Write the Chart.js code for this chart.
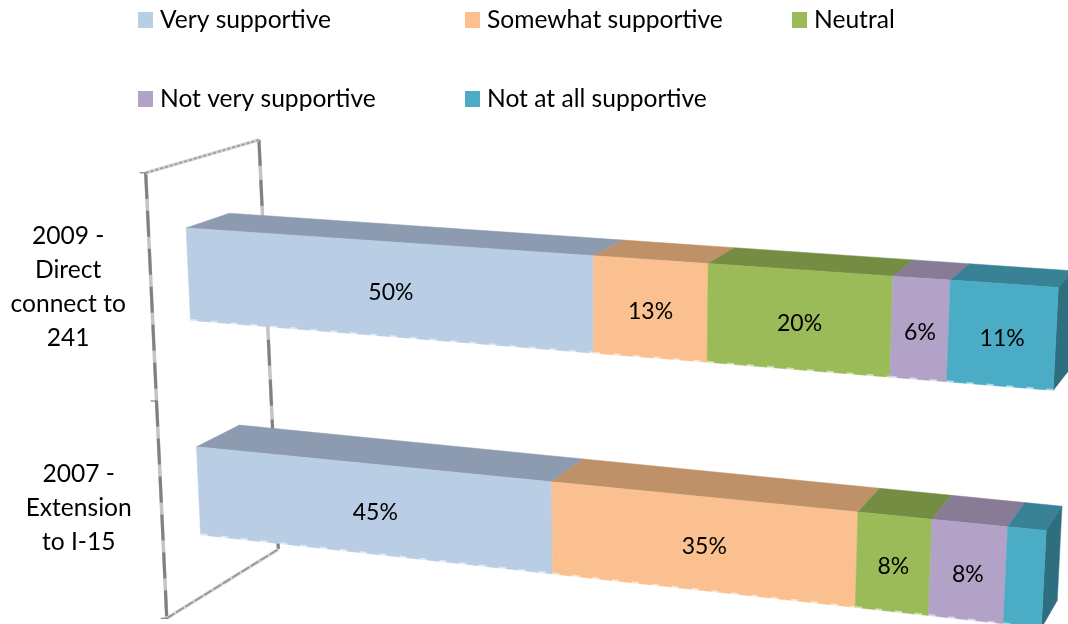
<!DOCTYPE html>
<html lang="en">
  <head>
    <meta charset="UTF-8" />
    <title>Support by project</title>
    <script src="https://cdn.jsdelivr.net/npm/chart.js"></script>
    <style>
      body { margin: 0; background: #fff; }
      #box { width: 1068px; height: 624px; }
    </style>
  </head>
  <body>
    <div id="box"><canvas id="chart" width="1068" height="624"></canvas></div>
    <script>
      const categories = [
        ['2009 -', 'Direct', 'connect to', '241'],
        ['2007 -', 'Extension', 'to I-15']
      ];
      const seriesNames = ['Very supportive', 'Somewhat supportive', 'Neutral', 'Not very supportive', 'Not at all supportive'];
      const veryValues = [50, 45];
      const somewhatValues = [13, 35];
      const neutralValues = [20, 8];
      const notVeryValues = [6, 8];
      const notAtAllValues = [11, 4];

      const frontColors = ['#B9CDE5', '#FAC090', '#9BBB59', '#B3A2C7', '#4BACC6'];
      const topColors = ['#8C9BB0', '#BF9169', '#758D43', '#887B96', '#398296'];
      const sideColor = '#2F6E7E';

      const FONT = '"Lato", sans-serif';

      // the plane of the bar fronts: plot corners as they land on the page
      const plane = { tl: [183, 162], tr: [1062, 214], br: [1038, 695], bl: [203.5, 595.5] };
      const vanish = [1539, -232];
      const FORESHORTEN = 0.018;
      const DEPTH_FRONT_WALL = -0.0275;
      const DEPTH_BAR_BACK = 0.032;
      const DEPTH_BACK_WALL = 0.056;

      function makeHomography(q) {
        const [x0, y0] = q.tl, [x1, y1] = q.tr, [x2, y2] = q.br, [x3, y3] = q.bl;
        const dx1 = x1 - x2, dx2 = x3 - x2, sx = x0 - x1 + x2 - x3;
        const dy1 = y1 - y2, dy2 = y3 - y2, sy = y0 - y1 + y2 - y3;
        const den = dx1 * dy2 - dx2 * dy1;
        const g = (sx * dy2 - dx2 * sy) / den;
        const h = (dx1 * sy - sx * dy1) / den;
        const a = x1 - x0 + g * x1, b = x3 - x0 + h * x3;
        const d = y1 - y0 + g * y1, e = y3 - y0 + h * y3;
        return (u, v) => {
          const w = g * u + h * v + 1;
          return [(a * u + b * v + x0) / w, (d * u + e * v + y0) / w];
        };
      }
      const toPlane = makeHomography(plane);

      // chart pixel + depth -> page pixel
      function project(area, px, py, depth) {
        let u = (px - area.left) / area.width;
        u = u * (1 - FORESHORTEN) / (1 - FORESHORTEN * u);
        const p = toPlane(u, (py - area.top) / area.height);
        return [p[0] + depth * (vanish[0] - p[0]), p[1] + depth * (vanish[1] - p[1])];
      }

      function fillPoly(ctx, pts, color) {
        ctx.beginPath();
        pts.forEach((p, i) => i ? ctx.lineTo(p[0], p[1]) : ctx.moveTo(p[0], p[1]));
        ctx.closePath();
        ctx.fillStyle = color;
        ctx.fill();
        ctx.strokeStyle = color;
        ctx.lineWidth = 0.5;
        ctx.stroke();
      }

      function frameLine(ctx, a, b, light, dark, dash, darkWidth) {
        ctx.save();
        ctx.lineCap = 'butt';
        ctx.strokeStyle = light;
        ctx.lineWidth = 3.5;
        ctx.beginPath(); ctx.moveTo(a[0], a[1]); ctx.lineTo(b[0], b[1]); ctx.stroke();
        ctx.strokeStyle = dark;
        ctx.lineWidth = darkWidth;
        ctx.setLineDash(dash);
        ctx.beginPath(); ctx.moveTo(a[0], a[1]); ctx.lineTo(b[0], b[1]); ctx.stroke();
        ctx.restore();
      }

      function drawFrame(chart) {
        const ctx = chart.ctx, area = chart.chartArea;
        const L = area.left, T = area.top, B = area.bottom;
        const ft = project(area, L, T, DEPTH_FRONT_WALL), fb = project(area, L, B, DEPTH_FRONT_WALL);
        const bt = project(area, L, T, DEPTH_BACK_WALL), bb = project(area, L, B, DEPTH_BACK_WALL);
        frameLine(ctx, bt, bb, '#c4c4c4', '#808080', [26, 14], 3);
        frameLine(ctx, ft, fb, '#c4c4c4', '#808080', [26, 12], 3);
        frameLine(ctx, ft, bt, '#d4d4d4', '#a0a0a0', [3, 2], 2);
        frameLine(ctx, fb, bb, '#d4d4d4', '#8f8f8f', [9, 2], 1.5);
        // tick marks on the category axis
        [T, (T + B) / 2, B].forEach(y => {
          const p = project(area, L, y, DEPTH_FRONT_WALL);
          ctx.strokeStyle = '#666';
          ctx.lineWidth = 1;
          ctx.beginPath(); ctx.moveTo(p[0] - 6, p[1]); ctx.lineTo(p[0], p[1]); ctx.stroke();
        });
      }

      // category labels follow the slanted axis, so they are not on one column
      function drawCategoryLabels(chart) {
        const ctx = chart.ctx, area = chart.chartArea, yScale = chart.scales.y;
        ctx.save();
        ctx.fillStyle = '#000';
        ctx.font = '24.6px ' + FONT;
        ctx.textAlign = 'center';
        ctx.textBaseline = 'middle';
        yScale.ticks.forEach((tick, i) => {
          const y = yScale.getPixelForTick(i);
          const x = project(area, area.left, y, DEPTH_FRONT_WALL)[0] - 83;
          const lines = tick.label;
          lines.forEach((line, n) => {
            ctx.fillText(line, x, y + (n - (lines.length - 1) / 2) * 34);
          });
        });
        ctx.restore();
      }

      // flat bars from the library are replaced by their projected boxes
      const boxBars = {
        id: 'boxBars',
        beforeDatasetsDraw(chart) {
          const ctx = chart.ctx, area = chart.chartArea;
          drawFrame(chart);
          drawCategoryLabels(chart);
          categories.forEach((c, index) => {
            chart.data.datasets.forEach((ds, di) => {
              const bar = chart.getDatasetMeta(di).data[index];
              const top = bar.y - bar.height / 2, bottom = bar.y + bar.height / 2;
              const ftl = project(area, bar.base, top, 0), ftr = project(area, bar.x, top, 0);
              const fbl = project(area, bar.base, bottom, 0), fbr = project(area, bar.x, bottom, 0);
              const btl = project(area, bar.base, top, DEPTH_BAR_BACK), btr = project(area, bar.x, top, DEPTH_BAR_BACK);
              const bbr = project(area, bar.x, bottom, DEPTH_BAR_BACK);
              fillPoly(ctx, [ftl, ftr, btr, btl], topColors[di]);
              if (di === chart.data.datasets.length - 1) fillPoly(ctx, [ftr, btr, bbr, fbr], sideColor);
              fillPoly(ctx, [ftl, ftr, fbr, fbl], frontColors[di]);
              // pale stitching along the lower edge
              ctx.save();
              ctx.strokeStyle = 'rgba(255,255,255,0.55)';
              ctx.lineWidth = 3;
              ctx.setLineDash([7, 13]);
              ctx.beginPath(); ctx.moveTo(fbl[0], fbl[1]); ctx.lineTo(fbr[0], fbr[1]); ctx.stroke();
              ctx.restore();
            });
          });
          // value labels on the front faces
          ctx.fillStyle = '#000';
          ctx.font = '23px ' + FONT;
          ctx.textAlign = 'center';
          ctx.textBaseline = 'middle';
          chart.data.datasets.forEach((ds, di) => {
            chart.getDatasetMeta(di).data.forEach((bar, index) => {
              if (ds.data[index] < 5) return;
              const a = project(area, bar.base, bar.y, 0), b = project(area, bar.x, bar.y, 0);
              ctx.fillText(ds.data[index] + '%', (a[0] + b[0]) / 2, (a[1] + b[1]) / 2 + 3);
            });
          });
          return false;
        }
      };

      const legendSlots = [[138, 20], [465, 20], [792, 20], [138, 99], [465, 99]];
      const pageLegend = {
        id: 'pageLegend',
        afterDraw(chart) {
          const ctx = chart.ctx;
          ctx.save();
          ctx.font = '24.6px ' + FONT;
          ctx.textAlign = 'left';
          ctx.textBaseline = 'middle';
          chart.data.datasets.forEach((ds, di) => {
            const [x, y] = legendSlots[di];
            ctx.fillStyle = frontColors[di];
            ctx.fillRect(x, y - 8, 15, 16);
            ctx.fillStyle = '#000';
            ctx.fillText(ds.label, x + 22, y);
          });
          ctx.restore();
        }
      };

      const seriesValues = [veryValues, somewhatValues, neutralValues, notVeryValues, notAtAllValues];

      new Chart(document.getElementById('chart'), {
        type: 'bar',
        data: {
          labels: categories,
          datasets: seriesNames.map((name, i) => ({
            label: name,
            data: seriesValues[i],
            backgroundColor: frontColors[i],
            categoryPercentage: 1,
            barPercentage: 0.4167
          }))
        },
        options: {
          indexAxis: 'y',
          responsive: false,
          animation: false,
          layout: { padding: { top: 176, bottom: 5, right: 10 } },
          plugins: { legend: { display: false }, tooltip: { enabled: false } },
          scales: {
            x: { stacked: true, min: 0, max: 100, display: false },
            y: {
              stacked: true,
              grid: { display: false, drawTicks: false },
              border: { display: false },
              ticks: { display: false },
              afterFit(scale) {
                scale.width = 130;
                scale.paddingTop = 0;
                scale.paddingBottom = 0;
              }
            }
          }
        },
        plugins: [boxBars, pageLegend]
      });
    </script>
  </body>
</html>
